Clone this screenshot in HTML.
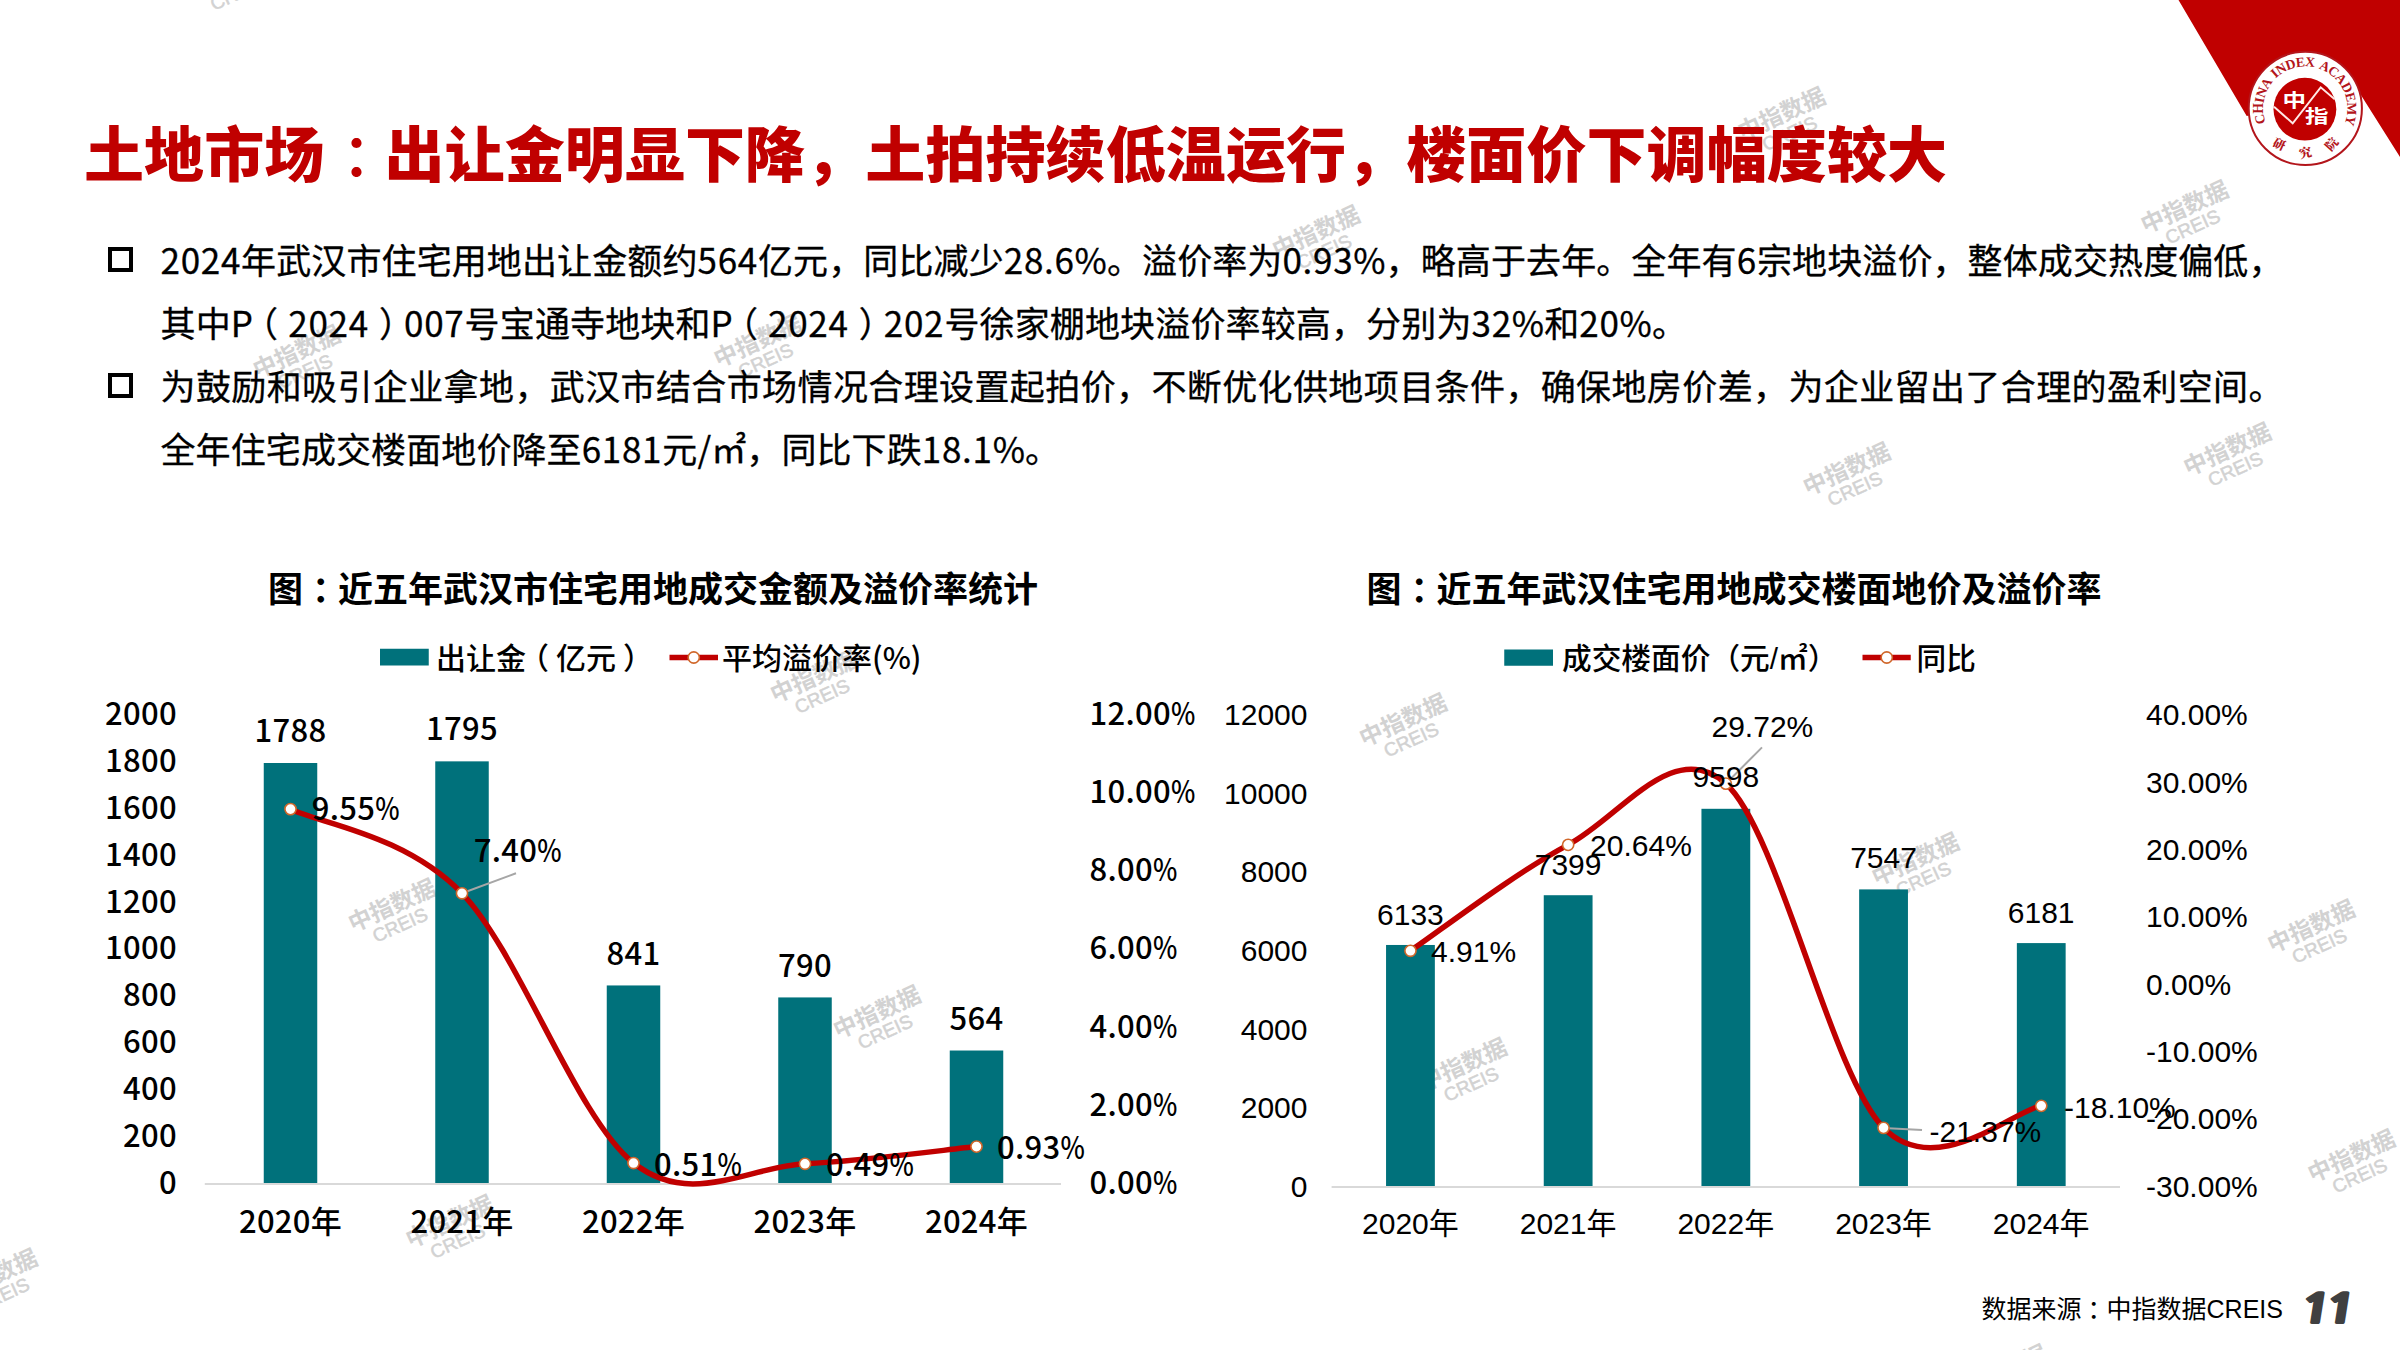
<!DOCTYPE html>
<html lang="zh-CN">
<head>
<meta charset="utf-8">
<title>土地市场：出让金明显下降</title>
<style>
html,body{margin:0;padding:0;background:#fff;}
body{width:2400px;height:1350px;position:relative;overflow:hidden;font-family:"Noto Sans CJK SC", "Liberation Sans", sans-serif;color:#000;}
.abs{position:absolute;white-space:nowrap;}
#title{left:84px;top:120.5px;font-size:60px;line-height:60px;font-weight:900;color:#c00000;letter-spacing:0.1px;}
.body{left:160.5px;width:2123px;font-size:35px;line-height:50px;height:50px;-webkit-text-stroke:0.3px #000;}
.just{text-align:justify;text-align-last:justify;white-space:normal;}
.bul{position:absolute;left:108px;width:16.8px;height:16.6px;border:4.6px solid #000;}
.ctitle{font-size:35px;line-height:40px;font-weight:bold;text-align:center;}
#src{left:1981.5px;top:1291px;font-size:25px;line-height:36px;font-family:"Liberation Sans", "Noto Sans CJK SC", sans-serif;}
#pg{left:2295.5px;top:1285.5px;font-size:40px;line-height:46px;font-family:"NanumGothic","Liberation Sans",sans-serif;font-weight:800;color:#404040;-webkit-text-stroke:1.8px #404040;letter-spacing:-5.9px;transform-origin:0 100%;transform:skewX(-9deg) scaleX(1.35);}
.n{letter-spacing:0.7px;}
.pl{position:relative;left:-10px;}
.pr{position:relative;left:10px;}
.tc2{position:relative;left:9px;}
.tc3{position:relative;left:6px;}
.tc{position:relative;left:17px;font-weight:500;}
svg{position:absolute;left:0;top:0;}
</style>
</head>
<body>
<svg id="wm" width="2400" height="1350" viewBox="0 0 2400 1350">
<g transform="translate(229.5,-26.8) rotate(-24.5)" fill="#d2d2d2" text-anchor="middle"><text x="0" y="8.4" font-size="23.3" font-family='"Liberation Sans", "Noto Sans CJK SC", sans-serif' font-weight="700">中指数据</text><text x="-0.7" y="28" font-size="19" font-family='"Liberation Sans", "Noto Sans CJK SC", sans-serif' stroke="#d2d2d2" stroke-width="0.5">CREIS</text></g>
<g transform="translate(1316,231.9) rotate(-24.5)" fill="#d2d2d2" text-anchor="middle"><text x="0" y="8.4" font-size="23.3" font-family='"Liberation Sans", "Noto Sans CJK SC", sans-serif' font-weight="700">中指数据</text><text x="-0.7" y="28" font-size="19" font-family='"Liberation Sans", "Noto Sans CJK SC", sans-serif' stroke="#d2d2d2" stroke-width="0.5">CREIS</text></g>
<g transform="translate(1781.5,113.7) rotate(-24.5)" fill="#d2d2d2" text-anchor="middle"><text x="0" y="8.4" font-size="23.3" font-family='"Liberation Sans", "Noto Sans CJK SC", sans-serif' font-weight="700">中指数据</text><text x="-0.7" y="28" font-size="19" font-family='"Liberation Sans", "Noto Sans CJK SC", sans-serif' stroke="#d2d2d2" stroke-width="0.5">CREIS</text></g>
<g transform="translate(2184.5,206.9) rotate(-24.5)" fill="#d2d2d2" text-anchor="middle"><text x="0" y="8.4" font-size="23.3" font-family='"Liberation Sans", "Noto Sans CJK SC", sans-serif' font-weight="700">中指数据</text><text x="-0.7" y="28" font-size="19" font-family='"Liberation Sans", "Noto Sans CJK SC", sans-serif' stroke="#d2d2d2" stroke-width="0.5">CREIS</text></g>
<g transform="translate(296.6,351.7) rotate(-24.5)" fill="#d2d2d2" text-anchor="middle"><text x="0" y="8.4" font-size="23.3" font-family='"Liberation Sans", "Noto Sans CJK SC", sans-serif' font-weight="700">中指数据</text><text x="-0.7" y="28" font-size="19" font-family='"Liberation Sans", "Noto Sans CJK SC", sans-serif' stroke="#d2d2d2" stroke-width="0.5">CREIS</text></g>
<g transform="translate(757.5,340.7) rotate(-24.5)" fill="#d2d2d2" text-anchor="middle"><text x="0" y="8.4" font-size="23.3" font-family='"Liberation Sans", "Noto Sans CJK SC", sans-serif' font-weight="700">中指数据</text><text x="-0.7" y="28" font-size="19" font-family='"Liberation Sans", "Noto Sans CJK SC", sans-serif' stroke="#d2d2d2" stroke-width="0.5">CREIS</text></g>
<g transform="translate(1846.6,469) rotate(-24.5)" fill="#d2d2d2" text-anchor="middle"><text x="0" y="8.4" font-size="23.3" font-family='"Liberation Sans", "Noto Sans CJK SC", sans-serif' font-weight="700">中指数据</text><text x="-0.7" y="28" font-size="19" font-family='"Liberation Sans", "Noto Sans CJK SC", sans-serif' stroke="#d2d2d2" stroke-width="0.5">CREIS</text></g>
<g transform="translate(2227.2,449.2) rotate(-24.5)" fill="#d2d2d2" text-anchor="middle"><text x="0" y="8.4" font-size="23.3" font-family='"Liberation Sans", "Noto Sans CJK SC", sans-serif' font-weight="700">中指数据</text><text x="-0.7" y="28" font-size="19" font-family='"Liberation Sans", "Noto Sans CJK SC", sans-serif' stroke="#d2d2d2" stroke-width="0.5">CREIS</text></g>
<g transform="translate(814,676.4) rotate(-24.5)" fill="#d2d2d2" text-anchor="middle"><text x="0" y="8.4" font-size="23.3" font-family='"Liberation Sans", "Noto Sans CJK SC", sans-serif' font-weight="700">中指数据</text><text x="-0.7" y="28" font-size="19" font-family='"Liberation Sans", "Noto Sans CJK SC", sans-serif' stroke="#d2d2d2" stroke-width="0.5">CREIS</text></g>
<g transform="translate(1403,720) rotate(-24.5)" fill="#d2d2d2" text-anchor="middle"><text x="0" y="8.4" font-size="23.3" font-family='"Liberation Sans", "Noto Sans CJK SC", sans-serif' font-weight="700">中指数据</text><text x="-0.7" y="28" font-size="19" font-family='"Liberation Sans", "Noto Sans CJK SC", sans-serif' stroke="#d2d2d2" stroke-width="0.5">CREIS</text></g>
<g transform="translate(391.8,905.3) rotate(-24.5)" fill="#d2d2d2" text-anchor="middle"><text x="0" y="8.4" font-size="23.3" font-family='"Liberation Sans", "Noto Sans CJK SC", sans-serif' font-weight="700">中指数据</text><text x="-0.7" y="28" font-size="19" font-family='"Liberation Sans", "Noto Sans CJK SC", sans-serif' stroke="#d2d2d2" stroke-width="0.5">CREIS</text></g>
<g transform="translate(1915.3,859.2) rotate(-24.5)" fill="#d2d2d2" text-anchor="middle"><text x="0" y="8.4" font-size="23.3" font-family='"Liberation Sans", "Noto Sans CJK SC", sans-serif' font-weight="700">中指数据</text><text x="-0.7" y="28" font-size="19" font-family='"Liberation Sans", "Noto Sans CJK SC", sans-serif' stroke="#d2d2d2" stroke-width="0.5">CREIS</text></g>
<g transform="translate(2311.1,926.3) rotate(-24.5)" fill="#d2d2d2" text-anchor="middle"><text x="0" y="8.4" font-size="23.3" font-family='"Liberation Sans", "Noto Sans CJK SC", sans-serif' font-weight="700">中指数据</text><text x="-0.7" y="28" font-size="19" font-family='"Liberation Sans", "Noto Sans CJK SC", sans-serif' stroke="#d2d2d2" stroke-width="0.5">CREIS</text></g>
<g transform="translate(876.9,1012) rotate(-24.5)" fill="#d2d2d2" text-anchor="middle"><text x="0" y="8.4" font-size="23.3" font-family='"Liberation Sans", "Noto Sans CJK SC", sans-serif' font-weight="700">中指数据</text><text x="-0.7" y="28" font-size="19" font-family='"Liberation Sans", "Noto Sans CJK SC", sans-serif' stroke="#d2d2d2" stroke-width="0.5">CREIS</text></g>
<g transform="translate(1463,1064.5) rotate(-24.5)" fill="#d2d2d2" text-anchor="middle"><text x="0" y="8.4" font-size="23.3" font-family='"Liberation Sans", "Noto Sans CJK SC", sans-serif' font-weight="700">中指数据</text><text x="-0.7" y="28" font-size="19" font-family='"Liberation Sans", "Noto Sans CJK SC", sans-serif' stroke="#d2d2d2" stroke-width="0.5">CREIS</text></g>
<g transform="translate(2351.4,1155.9) rotate(-24.5)" fill="#d2d2d2" text-anchor="middle"><text x="0" y="8.4" font-size="23.3" font-family='"Liberation Sans", "Noto Sans CJK SC", sans-serif' font-weight="700">中指数据</text><text x="-0.7" y="28" font-size="19" font-family='"Liberation Sans", "Noto Sans CJK SC", sans-serif' stroke="#d2d2d2" stroke-width="0.5">CREIS</text></g>
<g transform="translate(449.5,1221.4) rotate(-24.5)" fill="#d2d2d2" text-anchor="middle"><text x="0" y="8.4" font-size="23.3" font-family='"Liberation Sans", "Noto Sans CJK SC", sans-serif' font-weight="700">中指数据</text><text x="-0.7" y="28" font-size="19" font-family='"Liberation Sans", "Noto Sans CJK SC", sans-serif' stroke="#d2d2d2" stroke-width="0.5">CREIS</text></g>
<g transform="translate(-6.4,1275.3) rotate(-24.5)" fill="#d2d2d2" text-anchor="middle"><text x="0" y="8.4" font-size="23.3" font-family='"Liberation Sans", "Noto Sans CJK SC", sans-serif' font-weight="700">中指数据</text><text x="-0.7" y="28" font-size="19" font-family='"Liberation Sans", "Noto Sans CJK SC", sans-serif' stroke="#d2d2d2" stroke-width="0.5">CREIS</text></g>
<g transform="translate(2003,1371) rotate(-24.5)" fill="#d2d2d2" text-anchor="middle"><text x="0" y="8.4" font-size="23.3" font-family='"Liberation Sans", "Noto Sans CJK SC", sans-serif' font-weight="700">中指数据</text><text x="-0.7" y="28" font-size="19" font-family='"Liberation Sans", "Noto Sans CJK SC", sans-serif' stroke="#d2d2d2" stroke-width="0.5">CREIS</text></g>
</svg>
<svg id="logo" width="2400" height="1350" viewBox="0 0 2400 1350">

<polygon points="2178.5,0 2246.7,116 2359,92 2400,157 2400,0" fill="#c00000"/>
<circle cx="2305.3" cy="108.4" r="56.6" fill="#fff" stroke="#b3151b" stroke-width="2"/>
<circle cx="2304.9" cy="109.2" r="31.4" fill="#c00000"/>
<defs>
<path id="arcTop" d="M 2265.83,122.76 A 42.0,42.0 0 1 1 2344.43,123.66"/>
<path id="arcBot" d="M 2263.73,132.40 A 48.0,48.0 0 0 0 2346.87,132.40"/>
</defs>
<text font-family='"Liberation Serif", serif' font-weight="bold" font-size="13.7" fill="#b3151b" word-spacing="2.2" textLength="162.2" lengthAdjust="spacing"><textPath href="#arcTop" startOffset="0">CHINA INDEX ACADEMY</textPath></text>
<text font-family='"Noto Serif CJK SC", serif' font-weight="900" font-size="12.5" fill="#b3151b" text-anchor="middle" letter-spacing="17.7"><textPath href="#arcBot" startOffset="59.9">研究院</textPath></text>
<polyline points="2274,106.7 2292.7,123.3 2320.7,87.3 2334.7,99.3" fill="none" stroke="#ffe9e6" stroke-width="1.9"/>
<text transform="translate(2294.3,100) scale(1.12,0.865)" x="0" y="7.9" text-anchor="middle" font-family='"Liberation Sans", "Noto Sans CJK SC", sans-serif' font-weight="bold" font-size="21" fill="#fff">中</text>
<text transform="translate(2316.7,115.9) scale(1.12,0.865)" x="0" y="7.9" text-anchor="middle" font-family='"Liberation Sans", "Noto Sans CJK SC", sans-serif' font-weight="bold" font-size="21" fill="#fff">指</text>

</svg>
<div id="title" class="abs">土地市场<span class="tc">：</span>出让金明显下降，土拍持续低温运行，楼面价下调幅度较大</div>
<div class="bul" style="top:247px"></div>
<div class="abs body just" style="top:234px"><span class="n">2024</span>年武汉市住宅用地出让金额约<span class="n">564</span>亿元，同比减少<span class="n">28.6</span>%。溢价率为<span class="n">0.93</span>%，略高于去年。全年有<span class="n">6</span>宗地块溢价，整体成交热度偏低，</div>
<div class="abs body just" style="top:297px;width:1526.5px">其中P<span class="pl">（</span><span class="n">2024</span><span class="pr">）</span><span class="n">007</span>号宝通寺地块和P<span class="pl">（</span><span class="n">2024</span><span class="pr">）</span><span class="n">202</span>号徐家棚地块溢价率较高，分别为<span class="n">32</span>%和<span class="n">20</span>%。</div>
<div class="bul" style="top:373px"></div>
<div class="abs body just" style="top:360px">为鼓励和吸引企业拿地，武汉市结合市场情况合理设置起拍价，不断优化供地项目条件，确保地房价差，为企业留出了合理的盈利空间。</div>
<div class="abs body just" style="top:423px;width:899.5px">全年住宅成交楼面地价降至<span class="n">6181</span>元/㎡，同比下跌<span class="n">18.1</span>%。</div>
<div class="abs ctitle" style="left:253px;width:800px;top:567px">图<span class="tc2">：</span>近五年武汉市住宅用地成交金额及溢价率统计</div>
<div class="abs ctitle" style="left:1334px;width:800px;top:567px">图<span class="tc2">：</span>近五年武汉住宅用地成交楼面地价及溢价率</div>
<svg id="charts" width="2400" height="1350" viewBox="0 0 2400 1350" fill="#000">
<line x1="204.8" y1="1184.0" x2="1061" y2="1184.0" stroke="#d9d9d9" stroke-width="2"/>
<rect x="263.75" y="763.00" width="53.5" height="420.00" fill="#00717b"/>
<rect x="435.25" y="761.35" width="53.5" height="421.65" fill="#00717b"/>
<rect x="606.75" y="985.45" width="53.5" height="197.55" fill="#00717b"/>
<rect x="778.25" y="997.43" width="53.5" height="185.57" fill="#00717b"/>
<rect x="949.75" y="1050.52" width="53.5" height="132.48" fill="#00717b"/>
<line x1="462.0" y1="893.3" x2="516" y2="873.3" stroke="#a6a6a6" stroke-width="2"/>
<path d="M290.50,809.12 C319.08,823.15 404.83,834.30 462.00,893.29 C519.17,952.28 576.33,1117.95 633.50,1163.03 C690.67,1208.12 747.83,1166.56 805.00,1163.82 C862.17,1161.08 947.92,1149.46 976.50,1146.59" fill="none" stroke="#c00000" stroke-width="5.5" stroke-linecap="round"/>
<circle cx="290.50" cy="809.12" r="5.6" fill="#fff" stroke="#d0672a" stroke-width="1.6"/>
<circle cx="462.00" cy="893.29" r="5.6" fill="#fff" stroke="#d0672a" stroke-width="1.6"/>
<circle cx="633.50" cy="1163.03" r="5.6" fill="#fff" stroke="#d0672a" stroke-width="1.6"/>
<circle cx="805.00" cy="1163.82" r="5.6" fill="#fff" stroke="#d0672a" stroke-width="1.6"/>
<circle cx="976.50" cy="1146.59" r="5.6" fill="#fff" stroke="#d0672a" stroke-width="1.6"/>
<rect x="380" y="648.75" width="48.75" height="16.75" fill="#00717b"/>
<line x1="669.5" y1="657.5" x2="718" y2="657.5" stroke="#c00000" stroke-width="5.5"/>
<circle cx="693.75" cy="657.5" r="5.6" fill="#fff" stroke="#d0672a" stroke-width="1.6"/>
<line x1="1331.6" y1="1187.0" x2="2120" y2="1187.0" stroke="#d9d9d9" stroke-width="2"/>
<rect x="1386.05" y="944.97" width="48.8" height="241.03" fill="#00717b"/>
<rect x="1543.75" y="895.22" width="48.8" height="290.78" fill="#00717b"/>
<rect x="1701.45" y="808.80" width="48.8" height="377.20" fill="#00717b"/>
<rect x="1859.15" y="889.40" width="48.8" height="296.60" fill="#00717b"/>
<rect x="2016.85" y="943.09" width="48.8" height="242.91" fill="#00717b"/>
<line x1="1725.8" y1="783.7" x2="1762" y2="747.4" stroke="#a6a6a6" stroke-width="2"/>
<line x1="1883.5" y1="1127.9" x2="1922" y2="1130" stroke="#a6a6a6" stroke-width="2"/>
<path d="M1410.45,950.81 C1436.73,933.14 1515.58,872.69 1568.15,844.83 C1620.72,816.97 1673.28,736.49 1725.85,783.66 C1778.42,830.83 1830.98,1074.16 1883.55,1127.86 C1936.12,1181.55 2014.97,1109.50 2041.25,1105.83" fill="none" stroke="#c00000" stroke-width="5.5" stroke-linecap="round"/>
<circle cx="1410.45" cy="950.81" r="5.6" fill="#fff" stroke="#d0672a" stroke-width="1.6"/>
<circle cx="1568.15" cy="844.83" r="5.6" fill="#fff" stroke="#d0672a" stroke-width="1.6"/>
<circle cx="1725.85" cy="783.66" r="5.6" fill="#fff" stroke="#d0672a" stroke-width="1.6"/>
<circle cx="1883.55" cy="1127.86" r="5.6" fill="#fff" stroke="#d0672a" stroke-width="1.6"/>
<circle cx="2041.25" cy="1105.83" r="5.6" fill="#fff" stroke="#d0672a" stroke-width="1.6"/>
<rect x="1504.25" y="649.5" width="48.75" height="16.25" fill="#00717b"/>
<line x1="1862.5" y1="657.5" x2="1910.75" y2="657.5" stroke="#c00000" stroke-width="5.5"/>
<circle cx="1886.75" cy="657.5" r="5.6" fill="#fff" stroke="#d0672a" stroke-width="1.6"/>
<text x="177.0" y="1194.3" text-anchor="end" font-size="31" font-family='"Noto Sans CJK SC", "Liberation Sans", sans-serif' font-weight="500" letter-spacing="0.3">0</text>
<text x="177.0" y="1147.4" text-anchor="end" font-size="31" font-family='"Noto Sans CJK SC", "Liberation Sans", sans-serif' font-weight="500" letter-spacing="0.3">200</text>
<text x="177.0" y="1100.4" text-anchor="end" font-size="31" font-family='"Noto Sans CJK SC", "Liberation Sans", sans-serif' font-weight="500" letter-spacing="0.3">400</text>
<text x="177.0" y="1053.4" text-anchor="end" font-size="31" font-family='"Noto Sans CJK SC", "Liberation Sans", sans-serif' font-weight="500" letter-spacing="0.3">600</text>
<text x="177.0" y="1006.4" text-anchor="end" font-size="31" font-family='"Noto Sans CJK SC", "Liberation Sans", sans-serif' font-weight="500" letter-spacing="0.3">800</text>
<text x="177.0" y="959.4" text-anchor="end" font-size="31" font-family='"Noto Sans CJK SC", "Liberation Sans", sans-serif' font-weight="500" letter-spacing="0.3">1000</text>
<text x="177.0" y="912.5" text-anchor="end" font-size="31" font-family='"Noto Sans CJK SC", "Liberation Sans", sans-serif' font-weight="500" letter-spacing="0.3">1200</text>
<text x="177.0" y="865.5" text-anchor="end" font-size="31" font-family='"Noto Sans CJK SC", "Liberation Sans", sans-serif' font-weight="500" letter-spacing="0.3">1400</text>
<text x="177.0" y="818.5" text-anchor="end" font-size="31" font-family='"Noto Sans CJK SC", "Liberation Sans", sans-serif' font-weight="500" letter-spacing="0.3">1600</text>
<text x="177.0" y="771.5" text-anchor="end" font-size="31" font-family='"Noto Sans CJK SC", "Liberation Sans", sans-serif' font-weight="500" letter-spacing="0.3">1800</text>
<text x="177.0" y="724.5" text-anchor="end" font-size="31" font-family='"Noto Sans CJK SC", "Liberation Sans", sans-serif' font-weight="500" letter-spacing="0.3">2000</text>
<text x="1089.5" y="1194.3" text-anchor="start" font-size="31" font-family='"Noto Sans CJK SC", "Liberation Sans", sans-serif' font-weight="500" letter-spacing="0.3">0.00<tspan textLength="24.6" lengthAdjust="spacingAndGlyphs">%</tspan></text>
<text x="1089.5" y="1116.0" text-anchor="start" font-size="31" font-family='"Noto Sans CJK SC", "Liberation Sans", sans-serif' font-weight="500" letter-spacing="0.3">2.00<tspan textLength="24.6" lengthAdjust="spacingAndGlyphs">%</tspan></text>
<text x="1089.5" y="1037.7" text-anchor="start" font-size="31" font-family='"Noto Sans CJK SC", "Liberation Sans", sans-serif' font-weight="500" letter-spacing="0.3">4.00<tspan textLength="24.6" lengthAdjust="spacingAndGlyphs">%</tspan></text>
<text x="1089.5" y="959.4" text-anchor="start" font-size="31" font-family='"Noto Sans CJK SC", "Liberation Sans", sans-serif' font-weight="500" letter-spacing="0.3">6.00<tspan textLength="24.6" lengthAdjust="spacingAndGlyphs">%</tspan></text>
<text x="1089.5" y="881.1" text-anchor="start" font-size="31" font-family='"Noto Sans CJK SC", "Liberation Sans", sans-serif' font-weight="500" letter-spacing="0.3">8.00<tspan textLength="24.6" lengthAdjust="spacingAndGlyphs">%</tspan></text>
<text x="1089.5" y="802.8" text-anchor="start" font-size="31" font-family='"Noto Sans CJK SC", "Liberation Sans", sans-serif' font-weight="500" letter-spacing="0.3">10.00<tspan textLength="24.6" lengthAdjust="spacingAndGlyphs">%</tspan></text>
<text x="1089.5" y="724.5" text-anchor="start" font-size="31" font-family='"Noto Sans CJK SC", "Liberation Sans", sans-serif' font-weight="500" letter-spacing="0.3">12.00<tspan textLength="24.6" lengthAdjust="spacingAndGlyphs">%</tspan></text>
<text x="290.5" y="1233.3" text-anchor="middle" font-size="31" font-family='"Noto Sans CJK SC", "Liberation Sans", sans-serif' font-weight="500" letter-spacing="0.3">2020年</text>
<text x="462.0" y="1233.3" text-anchor="middle" font-size="31" font-family='"Noto Sans CJK SC", "Liberation Sans", sans-serif' font-weight="500" letter-spacing="0.3">2021年</text>
<text x="633.5" y="1233.3" text-anchor="middle" font-size="31" font-family='"Noto Sans CJK SC", "Liberation Sans", sans-serif' font-weight="500" letter-spacing="0.3">2022年</text>
<text x="805.0" y="1233.3" text-anchor="middle" font-size="31" font-family='"Noto Sans CJK SC", "Liberation Sans", sans-serif' font-weight="500" letter-spacing="0.3">2023年</text>
<text x="976.5" y="1233.3" text-anchor="middle" font-size="31" font-family='"Noto Sans CJK SC", "Liberation Sans", sans-serif' font-weight="500" letter-spacing="0.3">2024年</text>
<text x="290.5" y="742.0" text-anchor="middle" font-size="31" font-family='"Noto Sans CJK SC", "Liberation Sans", sans-serif' font-weight="500" letter-spacing="0.3">1788</text>
<text x="462.0" y="739.8" text-anchor="middle" font-size="31" font-family='"Noto Sans CJK SC", "Liberation Sans", sans-serif' font-weight="500" letter-spacing="0.3">1795</text>
<text x="633.5" y="965.3" text-anchor="middle" font-size="31" font-family='"Noto Sans CJK SC", "Liberation Sans", sans-serif' font-weight="500" letter-spacing="0.3">841</text>
<text x="805.0" y="976.5" text-anchor="middle" font-size="31" font-family='"Noto Sans CJK SC", "Liberation Sans", sans-serif' font-weight="500" letter-spacing="0.3">790</text>
<text x="976.5" y="1029.7" text-anchor="middle" font-size="31" font-family='"Noto Sans CJK SC", "Liberation Sans", sans-serif' font-weight="500" letter-spacing="0.3">564</text>
<text x="311.7" y="820.2" text-anchor="start" font-size="31" font-family='"Noto Sans CJK SC", "Liberation Sans", sans-serif' font-weight="500" letter-spacing="0.3">9.55<tspan textLength="24.6" lengthAdjust="spacingAndGlyphs">%</tspan></text>
<text x="473.7" y="862.3" text-anchor="start" font-size="31" font-family='"Noto Sans CJK SC", "Liberation Sans", sans-serif' font-weight="500" letter-spacing="0.3">7.40<tspan textLength="24.6" lengthAdjust="spacingAndGlyphs">%</tspan></text>
<text x="654.0" y="1176.2" text-anchor="start" font-size="31" font-family='"Noto Sans CJK SC", "Liberation Sans", sans-serif' font-weight="500" letter-spacing="0.3">0.51<tspan textLength="24.6" lengthAdjust="spacingAndGlyphs">%</tspan></text>
<text x="826.0" y="1176.2" text-anchor="start" font-size="31" font-family='"Noto Sans CJK SC", "Liberation Sans", sans-serif' font-weight="500" letter-spacing="0.3">0.49<tspan textLength="24.6" lengthAdjust="spacingAndGlyphs">%</tspan></text>
<text x="997.1" y="1158.8" text-anchor="start" font-size="31" font-family='"Noto Sans CJK SC", "Liberation Sans", sans-serif' font-weight="500" letter-spacing="0.3">0.93<tspan textLength="24.6" lengthAdjust="spacingAndGlyphs">%</tspan></text>
<text x="436.0" y="669.0" text-anchor="start" font-size="30" font-family='"Noto Sans CJK SC", "Liberation Sans", sans-serif' font-weight="500">出让金<tspan dx="-7">（</tspan><tspan dx="7">亿元</tspan><tspan dx="7">）</tspan></text>
<text x="722.0" y="669.0" text-anchor="start" font-size="30" font-family='"Noto Sans CJK SC", "Liberation Sans", sans-serif' font-weight="500">平均溢价率(%)</text>
<text x="1307.5" y="1196.7" text-anchor="end" font-size="30" font-family='"Liberation Sans", "Noto Sans CJK SC", sans-serif' >0</text>
<text x="1307.5" y="1118.1" text-anchor="end" font-size="30" font-family='"Liberation Sans", "Noto Sans CJK SC", sans-serif' >2000</text>
<text x="1307.5" y="1039.5" text-anchor="end" font-size="30" font-family='"Liberation Sans", "Noto Sans CJK SC", sans-serif' >4000</text>
<text x="1307.5" y="960.9" text-anchor="end" font-size="30" font-family='"Liberation Sans", "Noto Sans CJK SC", sans-serif' >6000</text>
<text x="1307.5" y="882.3" text-anchor="end" font-size="30" font-family='"Liberation Sans", "Noto Sans CJK SC", sans-serif' >8000</text>
<text x="1307.5" y="803.7" text-anchor="end" font-size="30" font-family='"Liberation Sans", "Noto Sans CJK SC", sans-serif' >10000</text>
<text x="1307.5" y="725.1" text-anchor="end" font-size="30" font-family='"Liberation Sans", "Noto Sans CJK SC", sans-serif' >12000</text>
<text x="2146.0" y="725.1" text-anchor="start" font-size="30" font-family='"Liberation Sans", "Noto Sans CJK SC", sans-serif' >40.00%</text>
<text x="2146.0" y="792.5" text-anchor="start" font-size="30" font-family='"Liberation Sans", "Noto Sans CJK SC", sans-serif' >30.00%</text>
<text x="2146.0" y="859.9" text-anchor="start" font-size="30" font-family='"Liberation Sans", "Noto Sans CJK SC", sans-serif' >20.00%</text>
<text x="2146.0" y="927.3" text-anchor="start" font-size="30" font-family='"Liberation Sans", "Noto Sans CJK SC", sans-serif' >10.00%</text>
<text x="2146.0" y="994.6" text-anchor="start" font-size="30" font-family='"Liberation Sans", "Noto Sans CJK SC", sans-serif' >0.00%</text>
<text x="2146.0" y="1062.0" text-anchor="start" font-size="30" font-family='"Liberation Sans", "Noto Sans CJK SC", sans-serif' >-10.00%</text>
<text x="2146.0" y="1129.4" text-anchor="start" font-size="30" font-family='"Liberation Sans", "Noto Sans CJK SC", sans-serif' >-20.00%</text>
<text x="2146.0" y="1196.7" text-anchor="start" font-size="30" font-family='"Liberation Sans", "Noto Sans CJK SC", sans-serif' >-30.00%</text>
<text x="1410.4" y="1234.1" text-anchor="middle" font-size="30" font-family='"Liberation Sans", "Noto Sans CJK SC", sans-serif' >2020年</text>
<text x="1568.1" y="1234.1" text-anchor="middle" font-size="30" font-family='"Liberation Sans", "Noto Sans CJK SC", sans-serif' >2021年</text>
<text x="1725.8" y="1234.1" text-anchor="middle" font-size="30" font-family='"Liberation Sans", "Noto Sans CJK SC", sans-serif' >2022年</text>
<text x="1883.5" y="1234.1" text-anchor="middle" font-size="30" font-family='"Liberation Sans", "Noto Sans CJK SC", sans-serif' >2023年</text>
<text x="2041.2" y="1234.1" text-anchor="middle" font-size="30" font-family='"Liberation Sans", "Noto Sans CJK SC", sans-serif' >2024年</text>
<text x="1410.4" y="924.7" text-anchor="middle" font-size="30" font-family='"Liberation Sans", "Noto Sans CJK SC", sans-serif' >6133</text>
<text x="1568.1" y="875.4" text-anchor="middle" font-size="30" font-family='"Liberation Sans", "Noto Sans CJK SC", sans-serif' >7399</text>
<text x="1725.8" y="787.3" text-anchor="middle" font-size="30" font-family='"Liberation Sans", "Noto Sans CJK SC", sans-serif' >9598</text>
<text x="1883.5" y="867.7" text-anchor="middle" font-size="30" font-family='"Liberation Sans", "Noto Sans CJK SC", sans-serif' >7547</text>
<text x="2041.2" y="922.7" text-anchor="middle" font-size="30" font-family='"Liberation Sans", "Noto Sans CJK SC", sans-serif' >6181</text>
<text x="1431.1" y="962.2" text-anchor="start" font-size="30" font-family='"Liberation Sans", "Noto Sans CJK SC", sans-serif' >4.91%</text>
<text x="1590.1" y="856.1" text-anchor="start" font-size="30" font-family='"Liberation Sans", "Noto Sans CJK SC", sans-serif' >20.64%</text>
<text x="1711.5" y="737.1" text-anchor="start" font-size="30" font-family='"Liberation Sans", "Noto Sans CJK SC", sans-serif' >29.72%</text>
<text x="1929.5" y="1141.7" text-anchor="start" font-size="30" font-family='"Liberation Sans", "Noto Sans CJK SC", sans-serif' >-21.37%</text>
<text x="2064.0" y="1118.1" text-anchor="start" font-size="30" font-family='"Liberation Sans", "Noto Sans CJK SC", sans-serif' >-18.10%</text>
<text x="1562.0" y="668.5" text-anchor="start" font-size="29.7" font-family='"Liberation Sans", "Noto Sans CJK SC", sans-serif' font-weight="500">成交楼面价（元/㎡）</text>
<text x="1916.5" y="668.5" text-anchor="start" font-size="29.7" font-family='"Liberation Sans", "Noto Sans CJK SC", sans-serif' font-weight="500">同比</text>
</svg>
<div id="src" class="abs">数据来源<span class="tc3">：</span>中指数据CREIS</div>
<div id="pg" class="abs">11</div>
</body>
</html>
